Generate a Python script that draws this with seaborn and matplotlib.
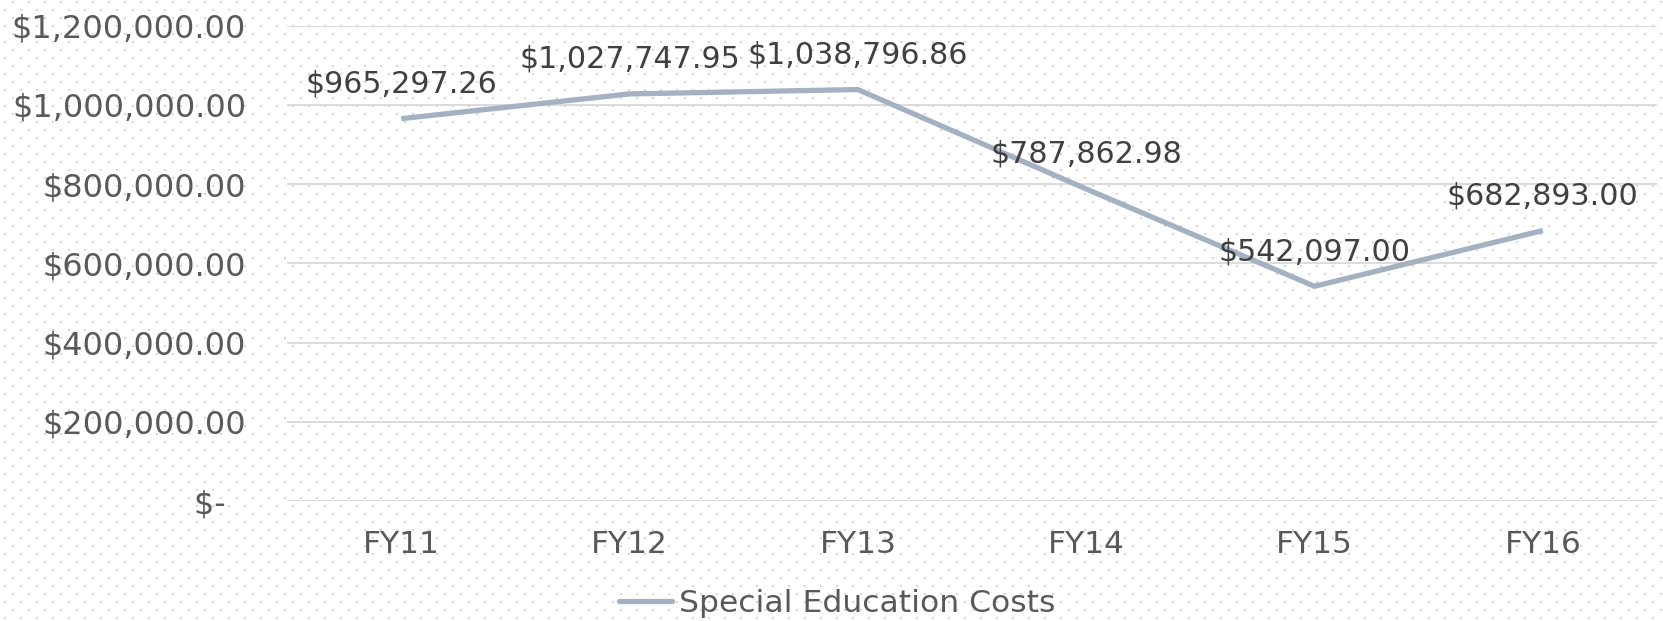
import numpy as np
import pandas as pd
import matplotlib
matplotlib.use("Agg")
import matplotlib.pyplot as plt
import seaborn as sns

# ---- data ----
categories = ["FY11", "FY12", "FY13", "FY14", "FY15", "FY16"]
costs = [965297.26, 1027747.95, 1038796.86, 787862.98, 542097.00, 682893.00]
series_name = "Special Education Costs"
y_ticks = [0, 200000, 400000, 600000, 800000, 1000000, 1200000]

df = pd.DataFrame({"Year": categories, "Cost": costs, "Series": series_name})

sns.set_theme(style="white")
plt.rcParams["font.family"] = ["DejaVu Sans"]

W, H, DPI = 1663, 621, 100
fig = plt.figure(figsize=(W / DPI, H / DPI), dpi=DPI, facecolor="white")

# dotted background pattern (transparent except for the dots)
pat = np.zeros((H, W, 4))
dot = 0.84
for y in range(1, H - 1, 8):
    row = (y - 1) // 8
    x0 = 12 if row % 2 == 0 else 4
    for dy in (0, 1):
        for dx in (0, 1):
            pat[y + dy, x0 + dx::16, :3] = dot
            pat[y + dy, x0 + dx::16, 3] = 1.0
fig.figimage(pat, xo=0, yo=0, origin="upper", zorder=-5)

left, right = 287 / W, 1657 / W
top, bottom = 1 - 25.7 / H, 1 - 501 / H
ax = fig.add_axes([left, bottom, right - left, top - bottom])
ax.set_zorder(2)
ax.patch.set_visible(False)

line_color = "#A3B1C2"
sns.lineplot(data=df, x="Year", y="Cost", hue="Series", palette=[line_color],
             linewidth=3.8, ax=ax, sort=False)
ax.lines[0].set_solid_capstyle("butt")

ax.set_xlim(-0.5, len(categories) - 0.5)
ax.set_ylim(0, 1200000)
ax.set_yticks(y_ticks)

def fmt(v):
    return "$-  " if v == 0 else f"${v:,.2f}"

ax.set_yticklabels([fmt(v) for v in y_ticks])
ax.set_xlabel("")
ax.set_ylabel("")
ax.tick_params(axis="y", labelsize=23, labelcolor="#595959", length=0, pad=29.5)
ax.tick_params(axis="x", labelsize=22.5, labelcolor="#595959", length=0, pad=21)
ax.grid(axis="y", color="#D9D9D9", linewidth=1.3)
ax.grid(axis="x", visible=False)
ax.set_axisbelow(True)
for s in ax.spines.values():
    s.set_visible(False)

for i, v in enumerate(costs):
    ax.annotate(f"${v:,.2f}", xy=(i, v), xytext=(0, 25), textcoords="offset points",
                ha="center", va="center", fontsize=21.7, color="#404040")

leg = ax.legend(loc="center", bbox_to_anchor=(837 / W, 1 - 603 / H),
                bbox_transform=fig.transFigure, frameon=False, fontsize=22.6,
                handlelength=1.7, handletextpad=0.2, borderpad=0)
for t in leg.get_texts():
    t.set_color("#595959")

fig.savefig("out.png", dpi=DPI, facecolor="white")
